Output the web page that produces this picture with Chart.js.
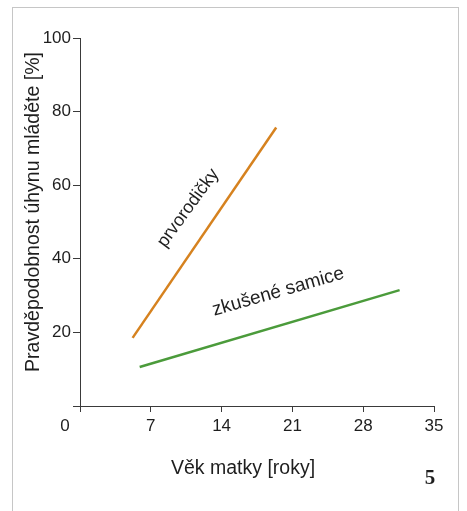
<!DOCTYPE html>
<html>
<head>
<meta charset="utf-8">
<script src="https://cdn.jsdelivr.net/npm/chart.js@4"></script>
<style>
  body { margin: 0; background: #fff; overflow: hidden; }
  #frame { position: absolute; left: 12px; top: 7px; width: 445px; height: 600px; border: 1.5px solid #c6c6c6; border-bottom: none; }
  #myChart { position: absolute; left: 0; top: 0; }
</style>
</head>
<body>
<div id="frame"></div>
<canvas id="myChart" width="467" height="511"></canvas>
<script>
// data
const ageTicks = [0, 7, 14, 21, 28, 35]
const mortalityTicks = [0, 20, 40, 60, 80, 100]
const firstTimeAge = [5.2, 19.4]
const firstTimeMortality = [18.5, 75.7]
const experiencedAge = [5.9, 31.6]
const experiencedMortality = [10.6, 31.5]

const textColor = '#1e1e1e'
const axisColor = '#3a3a3a'
const font = 'Liberation Sans, Arial, sans-serif'

const toPoints = (xs, ys) => xs.map((x, i) => ({ x: x, y: ys[i] }))

// extra texts: axis titles, line labels, origin zero, panel number
const annotations = {
  id: 'annotations',
  afterDraw(chart) {
    const c = chart.ctx
    const xs = chart.scales.x
    const ys = chart.scales.y
    c.save()
    c.fillStyle = textColor
    c.textAlign = 'center'
    c.textBaseline = 'middle'
    c.font = '17px ' + font
    c.fillText('0', 65, 426)

    c.font = '19.5px ' + font
    c.fillText('Věk matky [roky]', 243, 469)

    c.save()
    c.translate(34, 212)
    c.rotate(-Math.PI / 2)
    c.fillText('Pravděpodobnost úhynu mláděte [%]', 0, 0)
    c.restore()

    c.font = '18px ' + font
    c.save()
    c.translate(xs.getPixelForValue(10.7), ys.getPixelForValue(53.8))
    c.rotate(-54 * Math.PI / 180)
    c.fillText('prvorodičky', 0, 0)
    c.restore()

    c.font = '19px ' + font
    c.save()
    c.translate(xs.getPixelForValue(19.6), ys.getPixelForValue(31))
    c.rotate(-16 * Math.PI / 180)
    c.fillText('zkušené samice', 0, 0)
    c.restore()

    c.font = 'bold 21px Liberation Serif, serif'
    c.fillText('5', 430, 479)
    c.restore()
  }
}

const ctx = document.getElementById('myChart')

new Chart(ctx, {
  type: 'scatter',
  data: {
    datasets: [
      {
        label: 'prvorodičky',
        data: toPoints(firstTimeAge, firstTimeMortality),
        showLine: true,
        borderColor: '#d6821f',
        borderWidth: 2.5,
        pointRadius: 0
      },
      {
        label: 'zkušené samice',
        data: toPoints(experiencedAge, experiencedMortality),
        showLine: true,
        borderColor: '#4b9b3b',
        borderWidth: 2.5,
        pointRadius: 0
      }
    ]
  },
  options: {
    responsive: false,
    animation: false,
    devicePixelRatio: 1,
    layout: { padding: { left: 0, right: 33, top: 38, bottom: 0 } },
    plugins: { legend: { display: false }, tooltip: { enabled: false } },
    scales: {
      x: {
        type: 'linear',
        min: ageTicks[0],
        max: ageTicks[ageTicks.length - 1],
        afterBuildTicks: (s) => { s.ticks = ageTicks.map(v => ({ value: v })) },
        afterFit: (s) => { s.height = 105 },
        ticks: {
          color: textColor,
          font: { family: font, size: 17 },
          padding: 4,
          maxRotation: 0,
          callback: (v) => v === 0 ? '' : v
        },
        grid: { drawOnChartArea: false, drawTicks: true, tickLength: 6, color: axisColor },
        border: { color: axisColor, width: 1 }
      },
      y: {
        type: 'linear',
        min: mortalityTicks[0],
        max: mortalityTicks[mortalityTicks.length - 1],
        afterBuildTicks: (s) => { s.ticks = mortalityTicks.map(v => ({ value: v })) },
        afterFit: (s) => { s.width = 80 },
        ticks: {
          color: textColor,
          font: { family: font, size: 17 },
          padding: 2,
          callback: (v) => v === 0 ? '' : v
        },
        grid: { drawOnChartArea: false, drawTicks: true, tickLength: 7, color: axisColor },
        border: { color: axisColor, width: 1 }
      }
    }
  },
  plugins: [annotations]
})
</script>
</body>
</html>
